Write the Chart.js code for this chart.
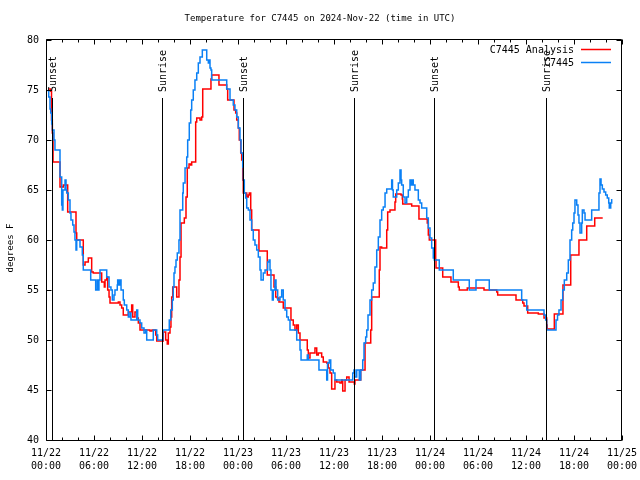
<!DOCTYPE html>
<html><head><meta charset="utf-8">
<script src="https://cdn.jsdelivr.net/npm/chart.js@4.4.0/dist/chart.umd.min.js"></script>
<style>html,body{margin:0;padding:0;background:#fff;}canvas{display:block;}</style>
</head><body>
<canvas id="c" width="640" height="480"></canvas>
<script>
const titleText = 'Temperature for C7445 on 2024-Nov-22 (time in UTC)';
const yAxisTitle = 'degrees F';
const xTickHours = [0,6,12,18,24,30,36,42,48,54,60,66,72];
const xTickDates = ['11/22','11/22','11/22','11/22','11/23','11/23','11/23','11/23','11/24','11/24','11/24','11/24','11/25'];
const xTickTimes = ['00:00','06:00','12:00','18:00','00:00','06:00','12:00','18:00','00:00','06:00','12:00','18:00','00:00'];
const yTicks = [40,45,50,55,60,65,70,75,80];
const sunHours = [0.71, 14.54, 24.66, 38.54, 48.54, 62.54];
const sunLabels = ['Sunset','Sunrise','Sunset','Sunrise','Sunset','Sunrise'];
const seriesLabels = ['C7445 Analysis','C7445'];
const seriesColors = ['#ff0000','#0a80f5'];

const obsHours = [0.21,0.34,0.5,0.59,0.71,0.79,1.0,1.12,1.75,1.96,2.04,2.12,2.38,2.5,2.59,2.79,3.0,3.12,3.34,3.5,3.62,3.75,3.84,4.25,4.54,4.66,5.59,6.21,6.41,6.54,6.62,6.75,7.59,7.88,8.12,8.29,8.5,8.62,8.91,8.96,9.12,9.25,9.38,9.66,9.79,10.09,10.29,10.5,10.62,11.34,11.46,11.75,11.96,12.25,12.46,12.59,13.41,13.84,13.96,14.62,15.41,15.59,15.79,15.91,16.0,16.12,16.25,16.41,16.62,16.75,17.09,17.16,17.38,17.59,17.71,17.91,18.09,18.21,18.41,18.62,18.84,19.04,19.25,19.54,20.09,20.29,20.41,20.5,20.62,20.71,22.59,23.0,23.41,23.62,23.84,24.04,24.25,24.38,24.59,24.66,24.79,24.96,25.09,25.29,25.5,25.71,25.91,26.12,26.34,26.54,26.75,26.88,27.16,27.38,27.71,27.88,28.0,28.12,28.29,28.41,28.62,28.75,28.96,29.25,29.46,29.66,29.88,30.09,30.29,30.5,31.34,31.75,31.88,32.66,32.79,34.12,35.09,35.19,35.41,35.59,35.91,36.12,38.34,38.5,38.62,38.84,39.16,39.34,39.59,39.75,39.96,40.09,40.25,40.5,40.71,40.91,41.12,41.34,41.54,41.75,41.96,42.16,42.38,42.59,43.21,43.31,43.41,43.84,44.04,44.25,44.38,44.46,44.66,44.88,45.09,45.29,45.5,45.66,45.79,45.91,46.12,46.54,46.75,46.96,47.59,47.79,48.0,48.21,48.41,48.54,49.16,50.91,52.91,53.75,55.41,59.46,60.09,62.25,62.46,62.59,63.75,63.94,64.12,64.38,64.59,64.79,65.09,65.29,65.5,65.71,65.84,66.0,66.12,66.34,66.5,66.62,66.75,66.96,67.04,67.25,67.38,68.21,69.12,69.25,69.38,69.54,69.75,69.96,70.16,70.34,70.41,70.59,70.71];
const obsTemps = [74.9,74.3,73.1,72.7,71.6,71,70,69,66.3,63.5,63,65,66,65,64.7,64,62.7,62,61.5,60.8,60,59,60,59.3,58.5,57,56,55,56,55,56,57,56.3,55.3,55,54,54.5,55,55.5,56,55.5,56,55,54,53.5,53,52.3,52.7,52,53,52,51.7,51.2,50.7,51,50,51,50.5,50,51,52,53,54,55.3,56.7,57.3,58,58.7,60,63,64.7,65.7,67.2,68.3,70,71.7,73,74,75,76,76.7,77.7,78.3,79,78,77.7,78,77.2,77,76,75.1,74,73.5,73,72.3,71.2,70,68.7,67.3,66,64.7,64.2,63.2,63,62,61,60,59.5,59,58.3,57,56,56.7,57,57.8,58,57,55,54,55,56,55,54,54.3,55,54,53,52.3,52,51,50,49,48,48.5,48,47,46,47.7,48,47,46.7,46,46.7,47,46.3,47,46,47,48,49.7,50.3,51,52.5,54,55,55.7,57.3,59,60.3,62,63,63.3,64.7,65.1,66,65,64.3,65,65.7,67,66,65.5,64.3,63.7,64.3,65,66,65.5,66,65.5,65,64,63.7,63.2,62.2,61.2,60.2,59.2,58.2,58,57,56,55,56,55,54,53,52.5,52,51,52,52.5,53,54,55,56,56.7,58,60,61,61.7,62.7,64,63.5,62.5,61.7,60.7,61.7,63,62.7,62,63,64.7,66.1,65.5,65.1,64.8,64.5,64.2,63.7,63.2,63.7,64.1];

const anaHours = [0.29,0.59,0.69,0.79,0.88,1.75,2.16,2.71,3.75,3.84,4.66,4.88,5.29,5.71,5.91,6.96,7.29,7.38,7.59,7.71,7.88,8.0,9.04,9.25,9.46,9.66,10.29,10.71,10.84,11.12,11.34,11.54,11.75,13.0,13.25,13.71,13.84,14.66,14.96,15.16,15.29,15.5,15.62,15.71,15.84,16.34,16.62,16.75,16.88,17.29,17.5,17.66,17.88,18.09,18.21,18.71,18.84,19.25,19.46,19.59,20.62,20.71,21.62,22.59,22.71,23.5,23.71,23.84,24.04,24.16,24.34,24.46,24.59,24.66,25.09,25.29,25.41,25.59,25.71,26.62,27.66,28.5,28.71,28.91,29.12,29.66,30.62,30.91,31.12,31.34,31.54,31.75,32.66,32.79,33.0,33.62,33.84,34.04,34.46,34.66,35.09,35.29,35.5,35.71,36.12,36.34,36.75,36.96,37.09,37.38,37.59,37.88,38.54,38.62,39.34,39.88,40.59,40.71,41.66,41.75,41.96,42.59,42.71,43.0,43.62,43.71,44.38,44.54,44.59,45.71,46.62,47.66,47.79,47.91,48.71,48.75,49.59,50.62,51.54,51.66,52.66,54.75,56.34,56.46,58.75,59.59,59.75,60.21,61.54,62.25,62.59,62.66,63.54,64.62,65.59,66.62,67.59,68.59,69.59];
const anaTemps = [75.1,74.9,72,70.7,67.8,65.3,65.5,62.8,60.7,60,57.5,57.8,58.2,56.8,56.7,55.8,55.3,56,56.3,55,54.3,53.7,53.8,53.5,53.2,52.5,52.8,53.5,52.3,52.8,52.2,51.7,51,50.9,51,50.5,49.9,50.8,50,49.6,50.7,51.3,52.3,54.3,55.3,54.3,56,58.3,61.7,62.2,64.3,67.2,67.6,67.5,67.8,71.8,72.2,72,72.3,75.1,76.1,76.5,75.5,75.1,74,73,72.7,72,71.2,70,68.7,68,66,64.7,64.3,64.5,64.7,63,61,58.9,56.5,55.3,54.3,54.2,53.8,53.2,52,51.5,51,51.5,50.7,50,49,48.2,48.7,49.2,48.5,48.7,48.3,47.8,47.7,47.2,46.7,45.1,46,45.8,45.7,46,44.9,46,46.3,45.8,45.6,46,47,49.7,51,54.3,57,59.3,59.2,61,62.8,63,63.8,64.6,64.5,64.1,63.6,63.4,62.1,61.7,60.5,60,58,57.2,56.3,55.8,55.3,55,55.2,55,54.8,54.5,54,53.7,53.4,52.7,52.6,52.2,51.5,51.1,52.6,55.5,58.5,60,61.4,62.2,62.2];

const MONO = '"DejaVu Sans Mono", "Liberation Mono", monospace';
const toXY = (xs, ys) => xs.map((h, i) => ({x: h, y: ys[i]}));

const framePlugin = {
  id: 'frame',
  afterDatasetsDraw(chart) {
    const {ctx, chartArea: a, scales: {x, y}} = chart;
    ctx.save();
    ctx.strokeStyle = '#000';
    ctx.fillStyle = '#000';
    ctx.lineWidth = 1;
    ctx.font = '10px ' + MONO;
    // sunrise / sunset markers
    sunHours.forEach((h, i) => {
      const px = Math.round(x.getPixelForValue(h)) + 0.5;
      ctx.beginPath();
      ctx.moveTo(px, a.top + 58);
      ctx.lineTo(px, a.bottom);
      ctx.stroke();
      ctx.save();
      ctx.translate(px + 1, a.top + 52);
      ctx.rotate(-Math.PI / 2);
      ctx.textAlign = 'left';
      ctx.textBaseline = 'middle';
      ctx.fillText(sunLabels[i], 0, 0);
      ctx.restore();
    });
    // border
    const L = a.left + 0.5, R = a.right - 0.5, T = a.top - 0.5, B = a.bottom + 0.5;
    ctx.beginPath();
    ctx.rect(L, T, R - L, B - T);
    ctx.stroke();
    // x ticks (major + minor), mirrored; y ticks mirrored
    ctx.beginPath();
    for (let h = 0; h <= 72; h += 2) {
      const px = Math.round(x.getPixelForValue(h)) + 0.5;
      const len = xTickHours.includes(h) ? 5 : 3;
      ctx.moveTo(px, B); ctx.lineTo(px, B - len);
      ctx.moveTo(px, T); ctx.lineTo(px, T + len);
    }
    yTicks.forEach(v => {
      const py = Math.round(y.getPixelForValue(v)) + 0.5;
      ctx.moveTo(L, py); ctx.lineTo(L + 5, py);
      ctx.moveTo(R, py); ctx.lineTo(R - 5, py);
    });
    ctx.stroke();
    // title
    ctx.textAlign = 'center';
    ctx.textBaseline = 'middle';
    ctx.font = '9px ' + MONO;
    ctx.fillText(titleText, 320, 19);
    // y axis title
    ctx.save();
    ctx.translate(11, 248);
    ctx.rotate(-Math.PI / 2);
    ctx.font = '9px ' + MONO;
    ctx.fillText(yAxisTitle, 0, 0);
    ctx.restore();
    // legend
    ctx.font = '10px ' + MONO;
    ctx.textAlign = 'right';
    seriesLabels.forEach((lab, i) => {
      const ly = a.top + 10 + i * 13;
      ctx.fillStyle = '#000';
      ctx.fillText(lab, 574, ly);
      ctx.strokeStyle = seriesColors[i];
      ctx.lineWidth = 1.5;
      ctx.beginPath();
      ctx.moveTo(581, ly - 0.5);
      ctx.lineTo(611, ly - 0.5);
      ctx.stroke();
    });
    ctx.restore();
  }
};

new Chart(document.getElementById('c'), {
  type: 'line',
  data: {
    datasets: [
      {label: seriesLabels[0], data: toXY(anaHours, anaTemps), borderColor: seriesColors[0], borderWidth: 1.5, pointRadius: 0, stepped: 'before', fill: false, order: 2},
      {label: seriesLabels[1], data: toXY(obsHours, obsTemps), borderColor: seriesColors[1], borderWidth: 1.5, pointRadius: 0, stepped: 'before', fill: false, order: 1}
    ]
  },
  options: {
    responsive: false,
    devicePixelRatio: 1,
    animation: false,
    layout: {padding: {top: 40, right: 18, left: 0, bottom: 0}},
    plugins: {legend: {display: false}, title: {display: false}, tooltip: {enabled: false}},
    scales: {
      x: {
        type: 'linear', min: 0, max: 72,
        grid: {display: false, drawTicks: false}, border: {display: false},
        afterFit: s => { s.height = 40; s.paddingLeft = 0; s.paddingRight = 0; },
        ticks: {
          stepSize: 6, maxRotation: 0, autoSkip: false, padding: 7,
          color: '#000', font: {family: '"DejaVu Sans Mono"', size: 10, lineHeight: 1.3},
          callback: v => { const i = xTickHours.indexOf(v); return i >= 0 ? [xTickDates[i], xTickTimes[i]] : ''; }
        }
      },
      y: {
        min: 40, max: 80,
        grid: {display: false, drawTicks: false}, border: {display: false},
        afterFit: s => { s.width = 46; s.paddingTop = 0; s.paddingBottom = 0; },
        ticks: {
          stepSize: 5, padding: 7, color: '#000',
          font: {family: '"DejaVu Sans Mono"', size: 10},
          callback: v => yTicks.includes(v) ? String(v) : ''
        }
      }
    }
  },
  plugins: [framePlugin]
});
</script>
</body></html>
